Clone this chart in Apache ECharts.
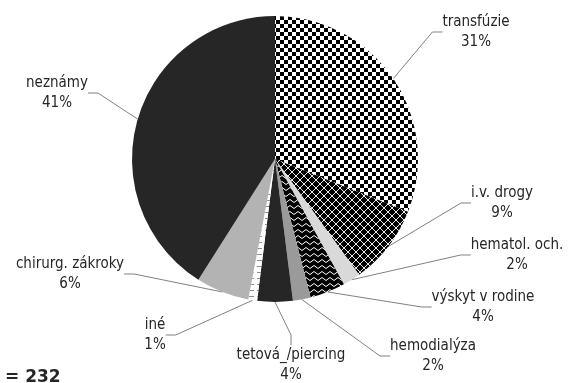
<!DOCTYPE html>
<html>
<head>
<meta charset="utf-8">
<script src="https://cdn.jsdelivr.net/npm/echarts@6/dist/echarts.min.js"></script>
<style>
  html, body { margin: 0; padding: 0; background: #fff; }
  #chart { width: 568px; height: 383px; }
</style>
</head>
<body>
<div id="chart"></div>
<script>
// Causes of infection, share of patients (n = 232), clockwise from the top
const categories = ['transfúzie', 'i.v. drogy', 'hematol. och.', 'výskyt v rodine', 'hemodialýza',
                    'tetová_/piercing', 'iné', 'chirurg. zákroky', 'neznámy'];
const shares = [31, 9, 2, 4, 2, 4, 1, 6, 41];
const totalLabel = '= 232';

// Label centres for each category (pixels)
const labelSpots = [
  [476, 32], [502, 203], [517, 255], [483, 307], [433, 356],
  [291, 365], [155, 335], [70, 274], [57, 93]
];

// Tiled fills
function tile(w, h, draw) {
  const c = document.createElement('canvas');
  c.width = w; c.height = h;
  draw(c.getContext('2d'), w, h);
  return { image: c, repeat: 'repeat' };
}
const checker = tile(8, 8, (g) => {
  g.fillStyle = '#fff'; g.fillRect(0, 0, 8, 8);
  g.fillStyle = '#000'; g.fillRect(0, 0, 4, 4); g.fillRect(4, 4, 4, 4);
});
const lattice = tile(8, 8, (g) => {
  g.fillStyle = '#000'; g.fillRect(0, 0, 8, 8);
  g.strokeStyle = '#e6e6e6'; g.lineWidth = 1;
  g.beginPath(); g.moveTo(0, 0); g.lineTo(8, 8); g.moveTo(8, 0); g.lineTo(0, 8); g.stroke();
});
const waves = tile(8, 6, (g) => {
  g.fillStyle = '#000'; g.fillRect(0, 0, 8, 6);
  g.strokeStyle = '#fff'; g.lineWidth = 1;
  g.beginPath(); g.moveTo(0, 3); g.lineTo(2, 1.5); g.lineTo(4, 3); g.lineTo(6, 4.5); g.lineTo(8, 3); g.stroke();
});
const dashes = tile(8, 6, (g) => {
  g.fillStyle = '#fff'; g.fillRect(0, 0, 8, 6);
  g.fillStyle = '#8c8c8c'; g.fillRect(1, 2, 5, 1);
});

const fills = [checker, lattice, '#d9d9d9', waves, '#9a9a9a', '#262626', dashes, '#b3b3b3', '#262626'];

const chart = echarts.init(document.getElementById('chart'), null, { renderer: 'canvas' });
chart.setOption({
  animation: false,
  title: {
    text: totalLabel,
    left: 0, top: 364,
    textStyle: { fontFamily: 'DejaVu Sans', fontSize: 17, fontWeight: 'bold', color: '#262626' }
  },
  series: [{
    type: 'pie',
    center: [275, 159],
    radius: [0, 143],
    startAngle: 90,
    clockwise: true,
    avoidLabelOverlap: false,
    itemStyle: { borderWidth: 0 },
    label: {
      show: true,
      formatter: (p) => p.name + '\n' + p.value + '%',
      fontFamily: 'DejaVu Sans Condensed',
      fontSize: 15,
      lineHeight: 20,
      color: '#262626',
      align: 'center'
    },
    labelLine: { show: true, length: 12, length2: 10, lineStyle: { color: '#808080', width: 1 } },
    labelLayout: (params) => ({
      x: labelSpots[params.dataIndex][0],
      y: labelSpots[params.dataIndex][1],
      align: 'center',
      verticalAlign: 'middle'
    }),
    emphasis: { disabled: true },
    data: categories.map((name, i) => ({ name, value: shares[i], itemStyle: { color: fills[i] } }))
  }]
});
</script>
</body>
</html>
